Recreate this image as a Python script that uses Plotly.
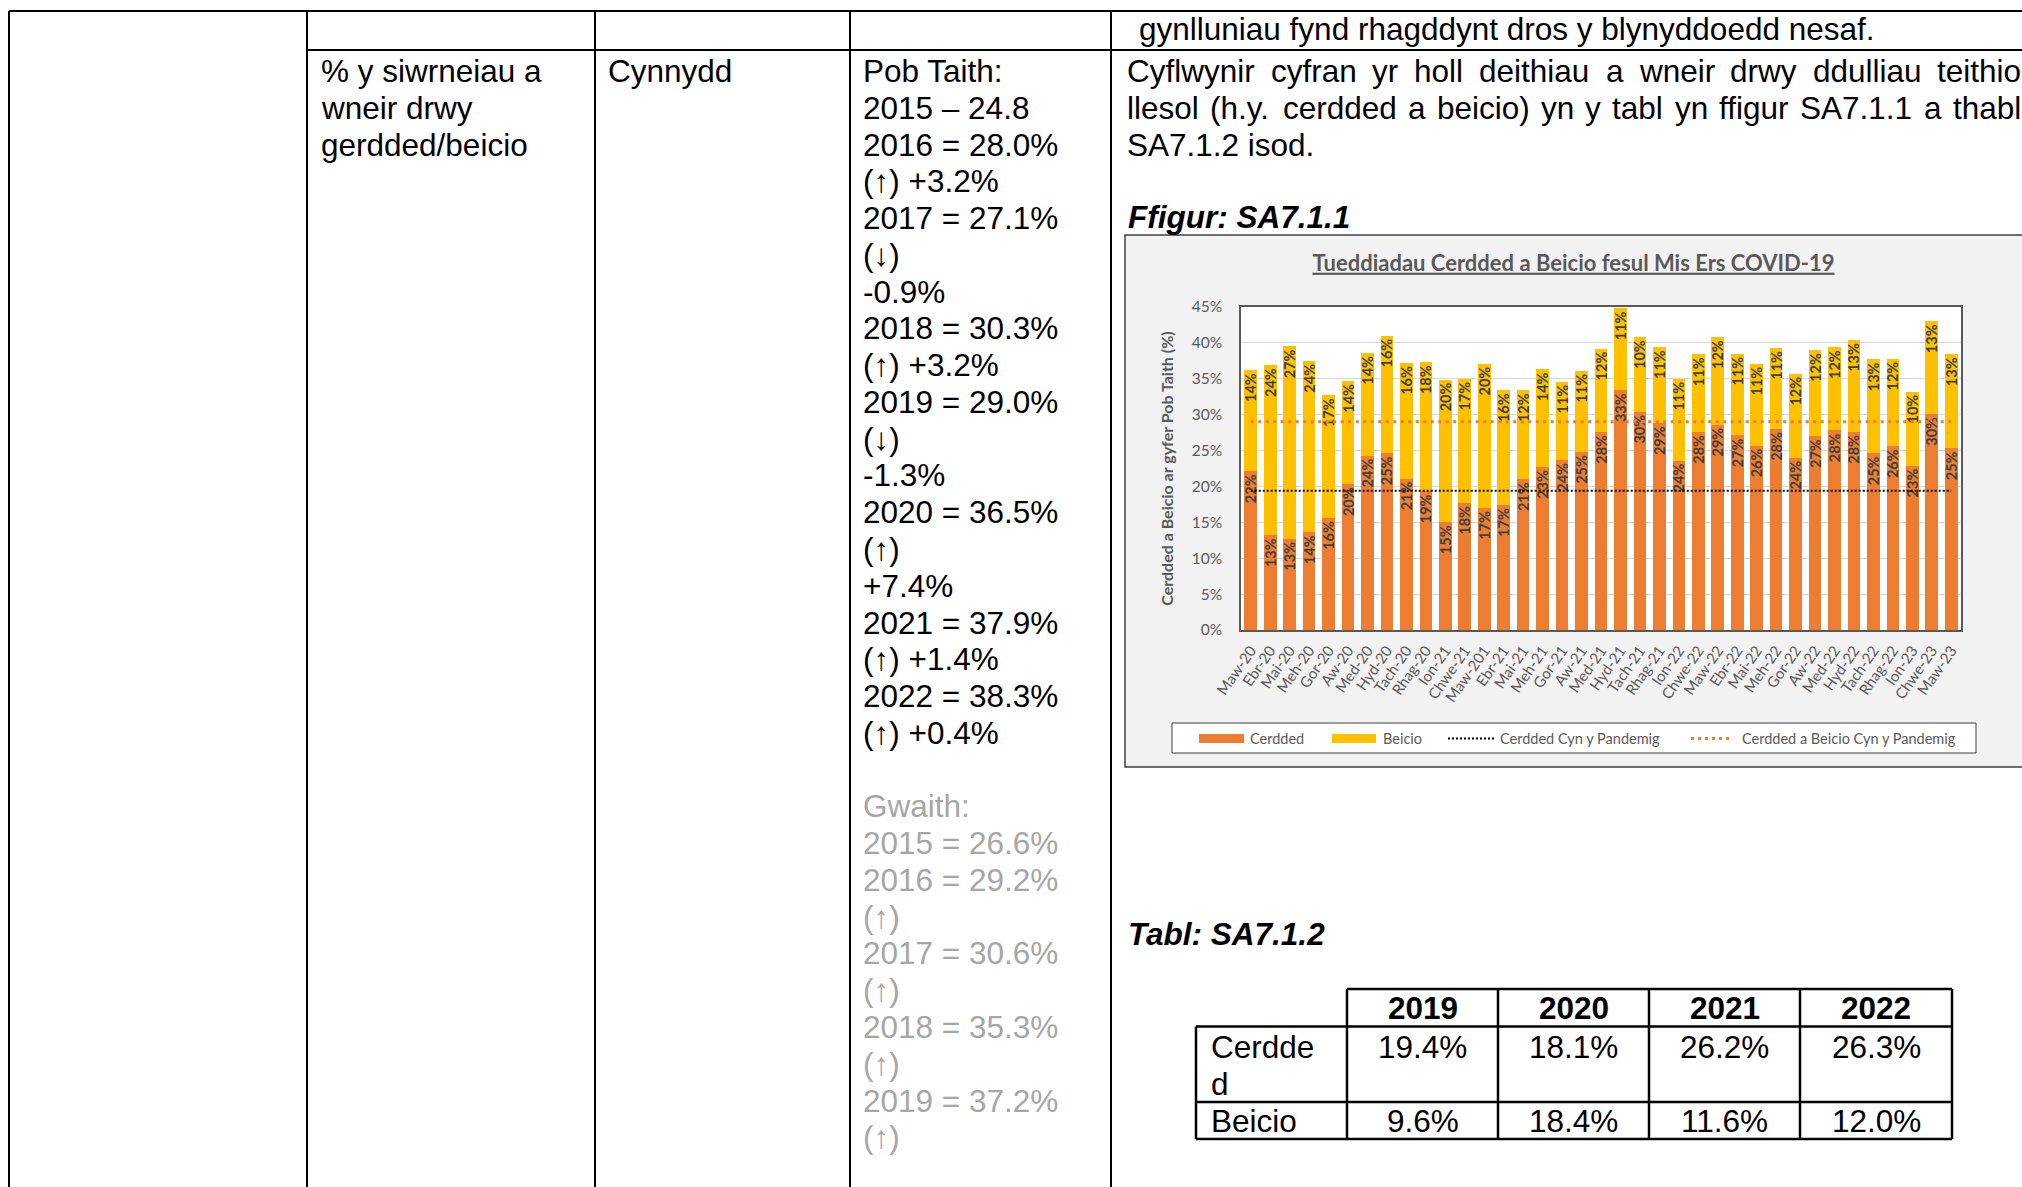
import plotly.graph_objects as go

# ---------------- data ----------------
months = ["Maw-20", "Ebr-20", "Mai-20", "Meh-20", "Gor-20", "Aw-20", "Med-20", "Hyd-20", "Tach-20", "Rhag-20",
          "Ion-21", "Chwe-21", "Maw-201", "Ebr-21", "Mai-21", "Meh-21", "Gor-21", "Aw-21", "Med-21", "Hyd-21",
          "Tach-21", "Rhag-21", "Ion-22", "Chwe-22", "Maw-22", "Ebr-22", "Mai-22", "Meh-22", "Gor-22", "Aw-22",
          "Med-22", "Hyd-22", "Tach-22", "Rhag-22", "Ion-23", "Chwe-23", "Maw-23"]
walking = [22.1, 13.2, 12.7, 13.6, 15.6, 20.3, 24.3, 24.6, 21.1, 19.3,
           15.0, 17.7, 17.0, 17.4, 21.0, 22.7, 23.7, 24.8, 27.6, 33.4,
           30.4, 28.8, 23.6, 27.6, 28.6, 27.1, 25.7, 28.0, 24.0, 27.0,
           27.8, 27.6, 24.6, 25.6, 22.9, 30.1, 25.3]
cycling = [14.1, 23.7, 26.8, 23.9, 17.1, 14.4, 14.3, 16.4, 16.1, 18.0,
           19.9, 17.3, 20.1, 16.0, 12.4, 13.6, 10.9, 11.3, 11.6, 11.4,
           10.4, 10.6, 11.4, 10.8, 12.2, 11.4, 11.4, 11.3, 11.7, 12.0,
           11.6, 12.8, 13.1, 12.2, 10.3, 12.9, 13.1]
pre_pandemic_walk = 19.4
pre_pandemic_cycle = 9.6

table_years = ["2019", "2020", "2021", "2022"]
table_walk = [19.4, 18.1, 26.2, 26.3]
table_cycle = [9.6, 18.4, 11.6, 12.0]

col2_lines = ["% y siwrneiau a", "wneir drwy", "gerdded/beicio"]
col3_lines = ["Cynnydd"]
pob_taith_lines = ["Pob Taith:", "2015 – 24.8", "2016 = 28.0%", "(↑) +3.2%", "2017 = 27.1%", "(↓)", "-0.9%",
                   "2018 = 30.3%", "(↑) +3.2%", "2019 = 29.0%", "(↓)", "-1.3%", "2020 = 36.5%", "(↑)", "+7.4%",
                   "2021 = 37.9%", "(↑) +1.4%", "2022 = 38.3%", "(↑) +0.4%"]
gwaith_lines = ["Gwaith:", "2015 = 26.6%", "2016 = 29.2%", "(↑)", "2017 = 30.6%", "(↑)", "2018 = 35.3%", "(↑)",
                "2019 = 37.2%", "(↑)"]
top_line = "gynlluniau fynd rhagddynt dros y blynyddoedd nesaf."
para_lines = ["Cyflwynir cyfran yr holl deithiau a wneir drwy ddulliau teithio",
              "llesol (h.y. cerdded a beicio) yn y tabl yn ffigur SA7.1.1 a thabl",
              "SA7.1.2 isod."]

# ---------------- layout helpers ----------------
W, H = 2022, 1187
DOC_FONT = "Liberation Sans, Arial, sans-serif"
CH_FONT = "Lato, Open Sans, sans-serif"
DOC_SIZE = 31.5


def px(x):
    return x / W


def py(y):
    return 1 - y / H


ARIAL = {' ': 278, 'a': 556, 'b': 556, 'c': 500, 'd': 556, 'e': 556, 'f': 278, 'g': 556, 'h': 556, 'i': 222,
         'j': 222, 'k': 500, 'l': 222, 'm': 833, 'n': 556, 'o': 556, 'p': 556, 'q': 556, 'r': 333, 's': 500,
         't': 278, 'u': 556, 'v': 500, 'w': 722, 'x': 500, 'y': 500, 'z': 500, 'C': 722, 'S': 667, 'A': 667,
         '.': 278, '(': 333, ')': 333, '7': 556, '1': 556, '2': 556}


def tw(s, size=DOC_SIZE):
    return sum(ARIAL.get(c, 556) for c in s) * size / 1000.0


annotations = []
shapes = []


def text(x, y, s, size=DOC_SIZE, color="black", family=DOC_FONT, anchor="left", weight="normal", style="normal"):
    annotations.append(dict(x=px(x), y=py(y), xref="paper", yref="paper", text=s, showarrow=False,
                            xanchor=anchor, yanchor="middle", borderpad=0,
                            font=dict(size=size, color=color, family=family, weight=weight, style=style)))


def hline(x0, x1, y, width=2, color="black"):
    shapes.append(dict(type="line", xref="paper", yref="paper", x0=px(x0), x1=px(x1), y0=py(y), y1=py(y),
                       line=dict(color=color, width=width), layer="above"))


def vline(x, y0, y1, width=2, color="black"):
    shapes.append(dict(type="line", xref="paper", yref="paper", x0=px(x), x1=px(x), y0=py(y0), y1=py(y1),
                       line=dict(color=color, width=width), layer="above"))


# chart area (grey) and plot area (white)
shapes.append(dict(type="rect", xref="paper", yref="paper", x0=px(1125), x1=px(2040), y0=py(235), y1=py(767),
                   fillcolor="#f2f2f2", line=dict(color="#404040", width=1.5), layer="below"))
shapes.append(dict(type="rect", xref="x domain", yref="y domain", x0=0, x1=1, y0=0, y1=1,
                   fillcolor="white", line=dict(width=0), layer="below"))

# ---------------- document table ----------------
hline(9, W + 5, 11)
hline(307, W + 5, 50)
for xv in [9, 307, 595, 850, 1111]:
    vline(xv, 11, H + 5)

LINE0, LSTEP = 71, 36.77
for i, s in enumerate(col2_lines):
    text(320, LINE0 + i * LSTEP, s)
for i, s in enumerate(col3_lines):
    text(607, LINE0 + i * LSTEP, s)
for i, s in enumerate(pob_taith_lines):
    text(862, LINE0 + i * LSTEP, s)
for i, s in enumerate(gwaith_lines):
    text(862, LINE0 + (i + len(pob_taith_lines) + 1) * LSTEP, s, color="#a6a6a6")

text(1138, 29, top_line)


def justified(line, x0, x1, y):
    words = line.split(" ")
    total = sum(tw(w) for w in words)
    gap = (x1 - x0 - total) / (len(words) - 1)
    x = x0
    for w in words:
        text(x, y, w)
        x += tw(w) + gap


justified(para_lines[0], 1126, 2020, LINE0)
justified(para_lines[1], 1126, 2020, LINE0 + LSTEP)
text(1126, LINE0 + 2 * LSTEP, para_lines[2])

text(1127, 217, "Ffigur: SA7.1.1", weight="bold", style="italic")
text(1127, 934, "Tabl: SA7.1.2", weight="bold", style="italic")

# ---------------- small data table ----------------
cols = [1196, 1347, 1498, 1649, 1800, 1952]
r_head, r1, r2, r3 = 989, 1026.5, 1102, 1139
TW = 2.5
hline(cols[1], cols[-1], r_head, TW)
hline(cols[0], cols[-1], r1, TW)
hline(cols[0], cols[-1], r2, TW)
hline(cols[0], cols[-1], r3, TW)
vline(cols[0], r1, r3, TW)
for xv in cols[1:]:
    vline(xv, r_head, r3, TW)
for j, yr in enumerate(table_years):
    cx = (cols[j + 1] + cols[j + 2]) / 2
    text(cx, 1008, yr, anchor="center", weight="bold")
    text(cx, 1047, f"{table_walk[j]:.1f}%", anchor="center")
    text(cx, 1121, f"{table_cycle[j]:.1f}%", anchor="center")
text(1210, 1047, "Cerdde")
text(1210, 1084, "d")
text(1210, 1121, "Beicio")

# ---------------- custom legend ----------------
shapes.append(dict(type="rect", xref="paper", yref="paper", x0=px(1172), x1=px(1976), y0=py(723), y1=py(753),
                   fillcolor="white", line=dict(color="#404040", width=1), layer="above"))
shapes.append(dict(type="rect", xref="paper", yref="paper", x0=px(1199), x1=px(1244), y0=py(734), y1=py(743),
                   fillcolor="#ED7D31", line=dict(width=0), layer="above"))
shapes.append(dict(type="rect", xref="paper", yref="paper", x0=px(1332), x1=px(1376), y0=py(734), y1=py(743),
                   fillcolor="#FFC000", line=dict(width=0), layer="above"))
shapes.append(dict(type="line", xref="paper", yref="paper", x0=px(1448), x1=px(1494), y0=py(738.5), y1=py(738.5),
                   line=dict(color="black", width=2, dash="2px,2px"), layer="above"))
shapes.append(dict(type="line", xref="paper", yref="paper", x0=px(1691), x1=px(1732), y0=py(738.5), y1=py(738.5),
                   line=dict(color="#ED7D31", width=3, dash="3px,4px"), layer="above"))
for lx, lt in [(1249, "Cerdded"), (1382, "Beicio"), (1499, "Cerdded Cyn y Pandemig"),
               (1741, "Cerdded a Beicio Cyn y Pandemig")]:
    text(lx, 738, lt, size=14.5, color="#595959", family=CH_FONT)

# ---------------- chart ----------------
fig = go.Figure()
fig.add_trace(go.Bar(x=months, y=walking, name="Cerdded", marker=dict(color="#ED7D31", line=dict(width=0)),
                     text=[f"{int(v + 0.5)}%" for v in walking], textposition="inside", insidetextanchor="end",
                     textangle=-90, constraintext="none",
                     textfont=dict(size=14.5, color="#404040", family=CH_FONT, weight="bold"), showlegend=False))
fig.add_trace(go.Bar(x=months, y=cycling, name="Beicio", marker=dict(color="#FFC000", line=dict(width=0)),
                     text=[f"{int(v + 0.5)}%" for v in cycling], textposition="inside", insidetextanchor="end",
                     textangle=-90, constraintext="none",
                     textfont=dict(size=14.5, color="#404040", family=CH_FONT, weight="bold"), showlegend=False))
fig.add_trace(go.Scatter(x=months, y=[pre_pandemic_walk] * len(months), mode="lines",
                         name="Cerdded Cyn y Pandemig",
                         line=dict(color="black", width=2, dash="2px,2px"), showlegend=False))
fig.add_trace(go.Scatter(x=months, y=[pre_pandemic_walk + pre_pandemic_cycle] * len(months), mode="lines",
                         name="Cerdded a Beicio Cyn y Pandemig",
                         line=dict(color="#ED7D31", width=3, dash="3px,4.5px"), showlegend=False))

fig.update_layout(
    template="none",
    width=W, height=H, margin=dict(l=0, r=0, t=0, b=0, pad=0, autoexpand=False), autosize=False,
    paper_bgcolor="white", plot_bgcolor="white", showlegend=False,
    barmode="stack", bargap=0.35, hovermode=False,
    title=dict(text="Tueddiadau Cerdded a Beicio fesul Mis Ers COVID-19", x=1573.5 / W, y=py(263),
               xref="paper", yref="container", xanchor="center", yanchor="middle", automargin=False,
               font=dict(family=CH_FONT, size=22, color="#595959", weight="bold", lineposition="under")),
    xaxis=dict(domain=[px(1241), px(1961)], tickangle=-55, showgrid=False, showline=True, mirror=True,
               linecolor="#595959", linewidth=1.5, ticks="", automargin=False, zeroline=False,
               ticklabelstandoff=4,
               tickfont=dict(family=CH_FONT, size=15, color="#595959")),
    yaxis=dict(domain=[py(630), py(307)], range=[0, 45], dtick=5, ticksuffix="%", showgrid=True,
               gridcolor="#d9d9d9", gridwidth=1, showline=True, mirror=True, linecolor="#595959",
               linewidth=1.5, ticks="", ticklabelstandoff=14, zeroline=False, automargin=False,
               tickfont=dict(family=CH_FONT, size=15.5, color="#595959"),
               title=dict(text="Cerdded a Beicio ar gyfer Pob Taith (%)", standoff=14,
                          font=dict(family=CH_FONT, size=16, color="#595959", weight="bold"))),
    shapes=shapes, annotations=annotations,
)

fig.write_html("out.html", config={"displayModeBar": False},
               post_script="document.body.style.margin='0';document.body.style.overflow='hidden';")
